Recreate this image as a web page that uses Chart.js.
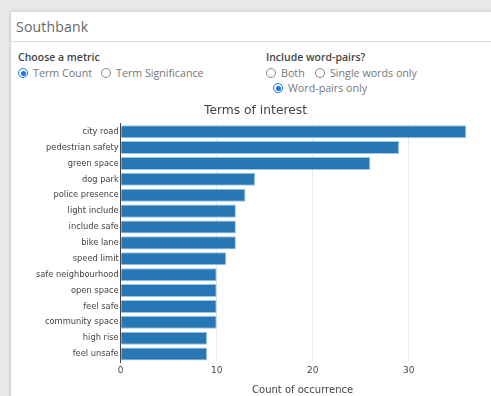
<!DOCTYPE html>
<html>
<head>
<meta charset="utf-8">
<script src="https://cdn.jsdelivr.net/npm/chart.js@4"></script>
<style>
  html, body { margin:0; padding:0; }
  body { width:491px; height:396px; overflow:hidden; background:#e9e9e9; position:relative; font-family:"Open Sans", sans-serif; }
  #card { position:absolute; left:10px; top:11px; width:500px; height:400px; background:#fff; border:1px solid #d6d6d6; box-shadow:0 0 4px rgba(0,0,0,0.12); }
  #hdr { position:absolute; left:5px; top:5px; font-size:14px; color:#666; letter-spacing:0.2px; }
  #hline { position:absolute; left:0; top:29px; width:100%; height:1px; background:#dcdcdc; }
  .lbl { position:absolute; font-size:10.5px; font-weight:600; color:#444; }
  .opt { position:absolute; font-size:10.7px; color:#777; white-space:nowrap; }
  .rad { display:inline-block; width:8px; height:8px; border:1px solid #888; border-radius:50%; vertical-align:-1px; margin-right:5px; box-sizing:content-box; position:relative; }
  .rad.on { border-color:#1a73e8; }
  .rad.on::after { content:""; position:absolute; left:1.5px; top:1.5px; width:5px; height:5px; border-radius:50%; background:#1a73e8; }
  #wrap { position:absolute; left:10px; top:95px; width:491px; height:301px; }
</style>
</head>
<body>
<div id="card">
  <div id="hdr">Southbank</div>
  <div id="hline"></div>
  <div class="lbl" style="left:7px;top:38px;">Choose a metric</div>
  <div class="opt" style="left:7px;top:54px;"><span class="rad on"></span>Term Count</div>
  <div class="opt" style="left:90px;top:54px;"><span class="rad"></span>Term Significance</div>
  <div class="lbl" style="left:255px;top:38px;">Include word-pairs?</div>
  <div class="opt" style="left:255px;top:54px;"><span class="rad"></span>Both</div>
  <div class="opt" style="left:304px;top:54px;"><span class="rad"></span>Single words only</div>
  <div class="opt" style="left:262px;top:69px;"><span class="rad on"></span>Word-pairs only</div>
</div>
<div id="wrap"><canvas id="c" width="491" height="301"></canvas></div>
<script>
const categories = ["city road","pedestrian safety","green space","dog park","police presence","light include","include safe","bike lane","speed limit","safe neighbourhood","open space","feel safe","community space","high rise","feel unsafe"];
const counts = [36, 29, 26, 14, 13, 12, 12, 12, 11, 10, 10, 10, 10, 9, 9];
const xTicks = [0, 10, 20, 30];

new Chart(document.getElementById('c'), {
  type: 'bar',
  data: {
    labels: categories,
    datasets: [{
      data: counts,
      backgroundColor: '#2677b4',
      borderColor: '#9cc5e6',
      borderWidth: 1,
      categoryPercentage: 1,
      barPercentage: 0.82
    }]
  },
  options: {
    indexAxis: 'y',
    responsive: false,
    animation: false,
    layout: { padding: 0 },
    plugins: {
      legend: { display: false },
      tooltip: { enabled: false },
      title: {
        display: true,
        text: 'Terms of interest',
        color: '#444',
        font: { family: 'DejaVu Sans', size: 12.3, weight: 'normal' },
        padding: { top: 8, bottom: 6 }
      }
    },
    scales: {
      x: {
        min: 0, max: 37.9,
        afterBuildTicks: s => { s.ticks = xTicks.map(v => ({ value: v })); },
        afterFit: s => { s.height = 34; },
        grid: { color: '#ebebeb', drawTicks: false },
        border: { display: false },
        ticks: { color: '#444', padding: 3, font: { family: 'DejaVu Sans', size: 9 } },
        title: { display: true, text: 'Count of occurrence', color: '#444', padding: { top: 1, bottom: 0 }, font: { family: 'DejaVu Sans', size: 10 } }
      },
      y: {
        afterFit: s => { s.width = 110.7; },
        grid: { display: false, drawTicks: false },
        border: { display: true, color: '#444', width: 1 },
        ticks: { color: '#444', padding: 2, autoSkip: false, font: { family: 'DejaVu Sans', size: 8.3 } }
      },
      yRight: {
        type: 'category',
        position: 'right',
        afterFit: s => { s.width = 16.5; },
        grid: { display: false, drawTicks: false },
        border: { display: false },
        ticks: { display: false }
      }
    }
  }
});
</script>
</body>
</html>
